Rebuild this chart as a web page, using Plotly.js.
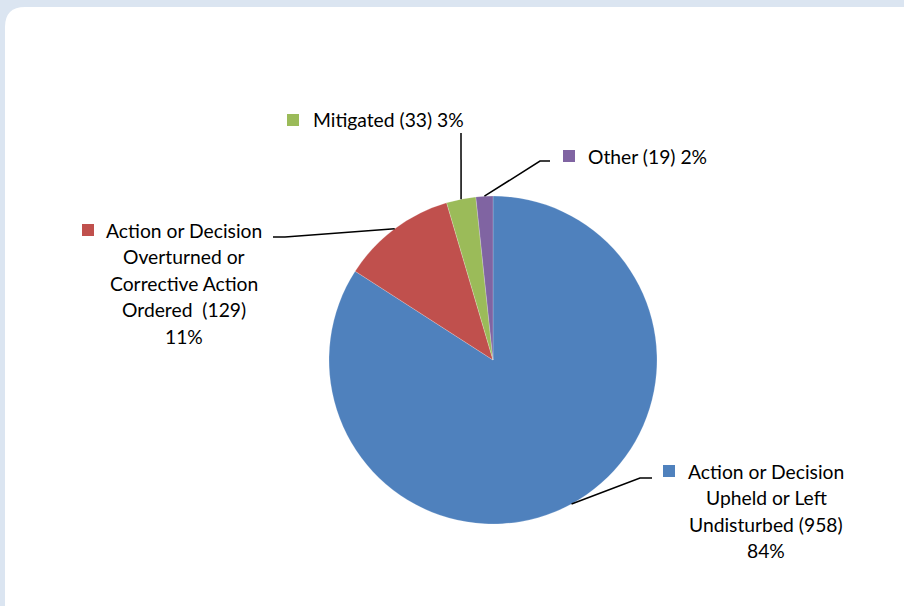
<!DOCTYPE html>
<html>
<head>
<meta charset="utf-8">
<script src="https://cdn.plot.ly/plotly-3.0.1.min.js"></script>
<style>html,body{margin:0;padding:0;background:#dbe5f1;}#chart{width:904px;height:606px;}</style>
</head>
<body>
<div id="chart"></div>
<script>
// ---- data ----
const categories = [
  "Action or Decision Upheld or Left Undisturbed",
  "Action or Decision Overturned or Corrective Action Ordered",
  "Mitigated",
  "Other"
];
const values = [958, 129, 33, 19];
const percentLabels = ["84%", "11%", "3%", "2%"];
const labelLines = [
  ["Action or Decision", "Upheld or Left", "Undisturbed (958)", "84%"],
  ["Action or Decision", "Overturned or", "Corrective Action", "Ordered  (129)", "11%"],
  ["Mitigated (33) 3%"],
  ["Other (19) 2%"]
];
const colors = ["#4f81bd", "#c0504d", "#9bbb59", "#8064a2"];

// ---- layout geometry (pixels) ----
const W = 904, H = 606;
const cx = 493, cy = 360, R = 164;
const px = x => x / W;
const py = y => 1 - y / H;

// label placement: text block center x, first-line y, square x, and elbow points
const labelPos = [
  {tx: 766, ty: 471, sq: 669, elbow: [[640, 478], [652, 478]]},
  {tx: 184, ty: 230, sq: 88,  elbow: [[285, 237], [273, 237]]},
  {tx: 388, ty: 120, sq: 293, elbow: [[461, 133]]},
  {tx: 647, ty: 156, sq: 569, elbow: [[540, 161], [550, 161]]}
];
const lineH = 26.5;
const fontFam = "Lato, 'Open Sans', sans-serif";

const total = values.reduce((a, b) => a + b, 0);
let cum = 0;
const shapes = [];
const annotations = [];

// white rounded panel
shapes.push({
  type: "path", xref: "paper", yref: "paper", layer: "below",
  path: `M ${px(5)} ${py(640)} L ${px(5)} ${py(27)} Q ${px(5)} ${py(7)} ${px(25)} ${py(7)} L ${px(930)} ${py(7)} L ${px(930)} ${py(640)} Z`,
  fillcolor: "#ffffff", line: {width: 0}
});

values.forEach((v, i) => {
  const mid = (cum + v / 2) / total * 2 * Math.PI;
  cum += v;
  const sx = cx + R * Math.sin(mid);
  const sy = cy - R * Math.cos(mid);
  const pts = [[sx, sy]].concat(labelPos[i].elbow);
  let path = `M ${px(pts[0][0])} ${py(pts[0][1])}`;
  for (let k = 1; k < pts.length; k++) path += ` L ${px(pts[k][0])} ${py(pts[k][1])}`;
  shapes.push({type: "path", xref: "paper", yref: "paper", path: path,
    line: {color: "#000000", width: 1.5}});
  // legend square
  const lp = labelPos[i];
  shapes.push({type: "rect", xref: "paper", yref: "paper",
    x0: px(lp.sq - 6), x1: px(lp.sq + 6), y0: py(lp.ty + 6), y1: py(lp.ty - 6),
    fillcolor: colors[i], line: {width: 0}});
  labelLines[i].forEach((t, k) => {
    annotations.push({
      xref: "paper", yref: "paper", x: px(lp.tx), y: py(lp.ty + k * lineH),
      xanchor: "center", yanchor: "middle", text: t, showarrow: false,
      font: {family: fontFam, size: 19.3, color: "#000000"}
    });
  });
});

const data = [{
  type: "pie",
  labels: categories,
  values: values,
  sort: false,
  direction: "clockwise",
  rotation: 0,
  textinfo: "none",
  hoverinfo: "label+value+percent",
  marker: {colors: colors, line: {color: "rgba(255,255,255,0.4)", width: 0.5}},
  domain: {x: [px(cx - R), px(cx + R)], y: [py(cy + R), py(cy - R)]},
  showlegend: false
}];

const layout = {
  width: W, height: H,
  margin: {l: 0, r: 0, t: 0, b: 0},
  paper_bgcolor: "#dbe5f1",
  plot_bgcolor: "rgba(0,0,0,0)",
  showlegend: false,
  shapes: shapes,
  annotations: annotations
};

Plotly.newPlot("chart", data, layout, {displayModeBar: false, staticPlot: true});
</script>
</body>
</html>
